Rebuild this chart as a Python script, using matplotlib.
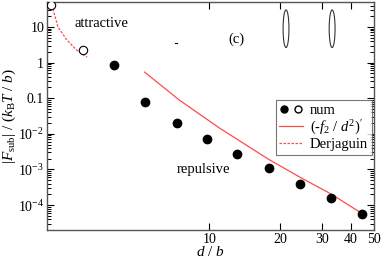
import matplotlib
matplotlib.use("Agg")
import matplotlib.pyplot as plt
from matplotlib.patches import Ellipse
from matplotlib.lines import Line2D
from matplotlib.legend_handler import HandlerTuple

plt.rcParams['font.family'] = ['Liberation Serif', 'DejaVu Serif']
plt.rcParams['mathtext.fontset'] = 'custom'
plt.rcParams['mathtext.rm'] = 'Liberation Serif'
plt.rcParams['mathtext.it'] = 'Liberation Serif:italic'

# numerical data (attractive = open, repulsive = filled)
d_open = [2.12, 2.9]
F_open = [41.8, 2.25]
d_filled = [3.92, 5.3, 7.25, 9.8, 13.1, 17.9, 24.3, 32.9, 44.5]
F_filled = [0.88, 0.077, 0.020, 0.0072, 0.0027, 0.00107, 0.00040, 0.000157, 0.000056]

# (-f2/d^2)' curve
d_theory = [5.3, 7.46, 11.0, 17.9, 24.3, 32.9, 44.5]
F_theory = [0.54, 0.088, 0.0147, 0.0019, 0.0006, 0.000204, 0.000058]

# Derjaguin curve
d_derj = [2.14, 2.27, 2.48, 2.73, 3.02]
F_derj = [41.6, 10.0, 4.3, 2.24, 1.43]

xticks = [10, 20, 30, 40, 50]
yticks = [1e1, 1, 1e-1, 1e-2, 1e-3, 1e-4]
ylabels = ['10', '1', '0.1', r'$10^{-2}$', r'$10^{-3}$', r'$10^{-4}$']

red = '#ff4a4a'

fig = plt.figure(figsize=(3.82, 2.59), dpi=100)
ax = fig.add_axes([0.123, 0.112, 0.856, 0.88])

ax.plot(d_derj, F_derj, '--', color=red, lw=0.9, dashes=(2, 1.2))
ax.plot(d_theory, F_theory, '-', color=red, lw=0.9)
ax.plot(d_filled, F_filled, 'o', color='black', ms=6, zorder=3)
ax.plot(d_open, F_open, 'o', mfc='white', mec='black', mew=0.8, ms=6, zorder=3)

ax.set_xscale('log')
ax.set_yscale('log')

ax.set_xticks(xticks)
ax.set_xticklabels([str(t) for t in xticks], fontsize=10)
ax.xaxis.set_minor_locator(matplotlib.ticker.NullLocator())
ax.set_yticks(yticks)
ax.set_yticklabels(ylabels, fontsize=10)
yminor = [m * 10.0 ** e for e in range(-5, 2) for m in range(2, 10)]
ax.yaxis.set_minor_locator(matplotlib.ticker.FixedLocator(yminor))
ax.yaxis.set_minor_formatter(matplotlib.ticker.NullFormatter())
ax.set_xlim(2.04, 50)
ax.set_ylim(2e-5, 50)
ax.tick_params(which='both', direction='in', top=True, right=True)
ax.tick_params(which='major', length=5, width=0.8, pad=2)
ax.tick_params(which='minor', length=3, width=0.7)

for s in ax.spines.values():
    s.set_linewidth(1.0)
    s.set_color('#555555')

# axis labels placed in figure fractions
fig.text(210 / 382, 1 - 252 / 259, r'$d\ /\ b$', fontsize=11, ha='center', va='center')
fig.text(9 / 382, 1 - 116 / 259, r'$|F_{\rm sub}|\ /\ (k_{\rm B}T\ /\ b)$', fontsize=11,
         ha='center', va='center', rotation=90)

ax.text(0.165, 0.905, 'attractive', transform=ax.transAxes, fontsize=10.5, ha='center', va='center')
ax.text(0.58, 0.835, '(c)', transform=ax.transAxes, fontsize=10.5, ha='center', va='center')
ax.text(0.478, 0.267, 'repulsive', transform=ax.transAxes, fontsize=10.5, ha='center', va='center')
ax.plot([0.392, 0.398], [0.82, 0.82], transform=ax.transAxes, color='black', lw=0.8)

for xc in [0.731, 0.872]:
    ax.add_patch(Ellipse((xc, 0.883), 0.018, 0.165, transform=ax.transAxes,
                         fill=False, ec='#333333', lw=0.8))

h_num = (Line2D([], [], marker='o', ls='', color='black', ms=5),
         Line2D([], [], marker='o', ls='', mfc='white', mec='black', ms=5))
h_th = Line2D([], [], color=red, lw=0.9)
h_dj = Line2D([], [], color=red, lw=0.9, ls='--', dashes=(2, 1.2))
leg = ax.legend([h_num, h_th, h_dj], ['num', r"$(\text{-}f_2\ /\ d^2)'$", 'Derjaguin'],
                handler_map={tuple: HandlerTuple(ndivide=None, pad=0.2)},
                loc='upper right', bbox_to_anchor=(0.993, 0.57), fontsize=10.5,
                frameon=True, fancybox=False, edgecolor='#555555', handlelength=1.6,
                handletextpad=0.5, borderpad=0.25, labelspacing=0.1, borderaxespad=0)
leg.get_frame().set_linewidth(0.8)

fig.savefig('out.png', dpi=100)
